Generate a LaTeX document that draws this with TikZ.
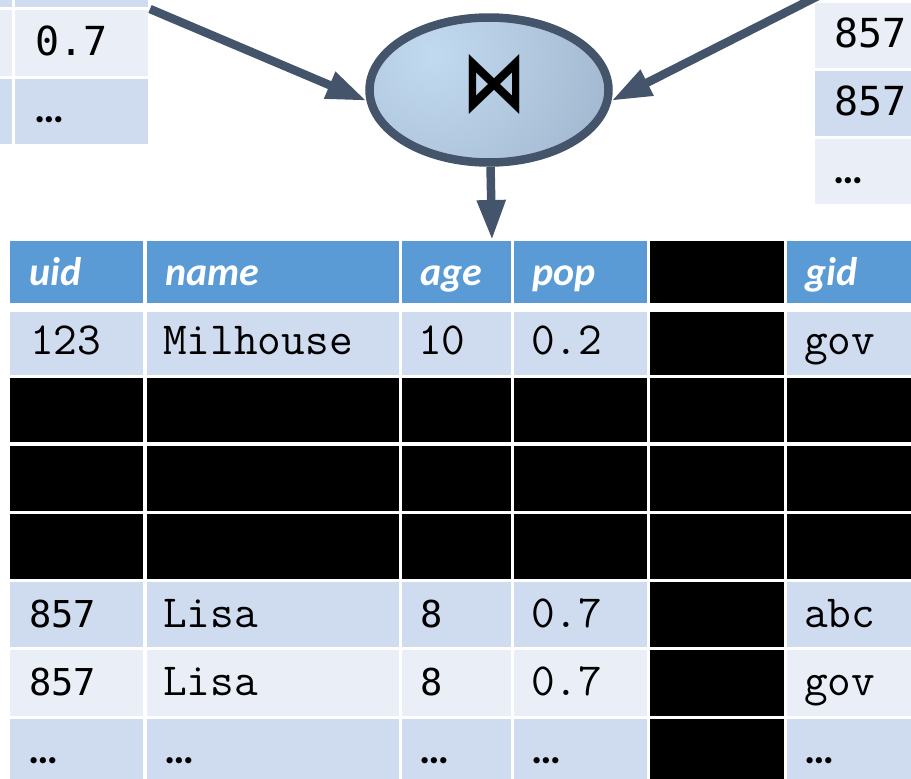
\documentclass[tikz,border=0pt]{standalone}
\usepackage{fontspec}
\usetikzlibrary{shapes.geometric,arrows.meta}
\newfontfamily\hdrfont{Carlito}
\newfontfamily\sansmono{DejaVu Sans Mono}
\newfontfamily\dotfont{Carlito}
\newfontfamily\symfont{DejaVu Sans}
\definecolor{hdr}{HTML}{5B9BD5}
\definecolor{rowdark}{HTML}{CFDBEE}
\definecolor{rowlight}{HTML}{E9EEF7}
\definecolor{slate}{HTML}{44546A}
\definecolor{shlight}{HTML}{C2DAF0}
\definecolor{shdark}{HTML}{8094AE}
\tikzset{
  tt/.style={anchor=base west, inner sep=0pt, font=\fontsize{46}{52}\selectfont\ttfamily},
  ss/.style={anchor=base west, inner sep=0pt, font=\fontsize{37}{44}\selectfont\sansmono},
  ssb/.style={anchor=base west, inner sep=0pt, font=\fontsize{40}{48}\selectfont\sansmono},
  hd/.style={anchor=base west, inner sep=0pt, text=white, font=\fontsize{40}{48}\selectfont\hdrfont\bfseries\itshape},
  dt/.style={anchor=base west, inner sep=0pt, font=\fontsize{42}{48}\selectfont\dotfont\bfseries},
  arr/.style={draw=slate, line width=8.5pt, -{Triangle[length=40pt,width=27pt]}},
  opnode/.style={ellipse, draw=slate, line width=8.5pt, minimum width=239pt, minimum height=145pt, inner sep=0pt},
}
\begin{document}
\begin{tikzpicture}[x=1pt,y=-1pt]
\useasboundingbox (0,0) rectangle (911,779);
\clip (0,0) rectangle (911,779);
% join operator: shaded fill, then outlined node
\begin{scope}
  \clip (489,90) ellipse (120 and 73);
  \shade[inner color=shlight, outer color=shdark] (434,55) circle (380);
\end{scope}
\node[opnode] (join) at (489,90) {};
\node[inner sep=0pt] (sym) at (494,85) {\resizebox{64pt}{56pt}{\symfont\bfseries ⋈}};
% connectors
\coordinate (lin) at (150,9);
\coordinate (rin) at (818,-4);
\coordinate (outtop) at (492,240);
\draw[arr] (lin) -- (join.185);
\draw[arr] (rin) -- (join.355);
\draw[arr] (join) -- (outtop);
% top-left table
\fill[rowdark] (-140,-60) rectangle (12.3,6.7);
\fill[rowdark] (15,-60) rectangle (148.3,6.7);
\fill[rowlight] (-140,10) rectangle (12.3,76);
\fill[rowlight] (15,10) rectangle (148.3,76);
\fill[rowdark] (-140,78.5) rectangle (12.3,144);
\fill[rowdark] (15,78.5) rectangle (148.3,144);
\node[ssb] (lt1) at (35,55) {0.7};
\node[dt] (lt2) at (34,122) {…};
% top-right table
\fill[rowlight] (815,3) rectangle (930,68);
\fill[rowdark] (815,71) rectangle (930,136);
\fill[rowlight] (815,139) rectangle (930,204);
\node[ssb] (rt1) at (834,47) {857};
\node[ssb] (rt2) at (834,115) {857};
\node[dt] (rt3) at (833,183) {…};
% main table cells
\foreach \ya/\yb/\cl in {241/303/hdr, 312/375/rowdark, 377.5/442/black, 446/511/black, 514/579/black, 582/647/rowdark, 650/715.5/rowlight, 718.5/790/rowdark}{
  \foreach \xa/\xb [count=\c] in {10/143, 146.5/399, 402/511, 514/647, 650/783.5, 787/930}{
    \ifnum\c=5
      \fill[black] (\xa,\ya) rectangle (\xb,\yb);
    \else
      \fill[\cl] (\xa,\ya) rectangle (\xb,\yb);
    \fi
  }
}
% header
\node[hd] (h1) at (29,285) {uid};
\node[hd] (h2) at (165,285) {name};
\node[hd] (h3) at (420,285) {age};
\node[hd] (h4) at (532,285) {pop};
\node[hd] (h6) at (805,285) {gid};
% row 1
\node[tt] (a1) at (30,354) {123};
\node[tt] (a2) at (163,354) {Milhouse};
\node[tt] (a3) at (418,354) {10};
\node[tt] (a4) at (531,354) {0.2};
\node[tt] (a6) at (804,354) {gov};
% Lisa rows
\node[ss] (b1) at (29,627) {857};
\node[tt] (b2) at (163,627) {Lisa};
\node[ss] (b3) at (420,627) {8};
\node[tt] (b4) at (531,627) {0.7};
\node[tt] (b6) at (804,627) {abc};
\node[ss] (c1) at (29,695) {857};
\node[tt] (c2) at (163,695) {Lisa};
\node[ss] (c3) at (420,695) {8};
\node[tt] (c4) at (531,695) {0.7};
\node[tt] (c6) at (804,695) {gov};
% dots row
\node[dt] (d1) at (28,763) {…};
\node[dt] (d2) at (164,763) {…};
\node[dt] (d3) at (419,763) {…};
\node[dt] (d4) at (531,763) {…};
\node[dt] (d6) at (804,763) {…};
\end{tikzpicture}
\end{document}
